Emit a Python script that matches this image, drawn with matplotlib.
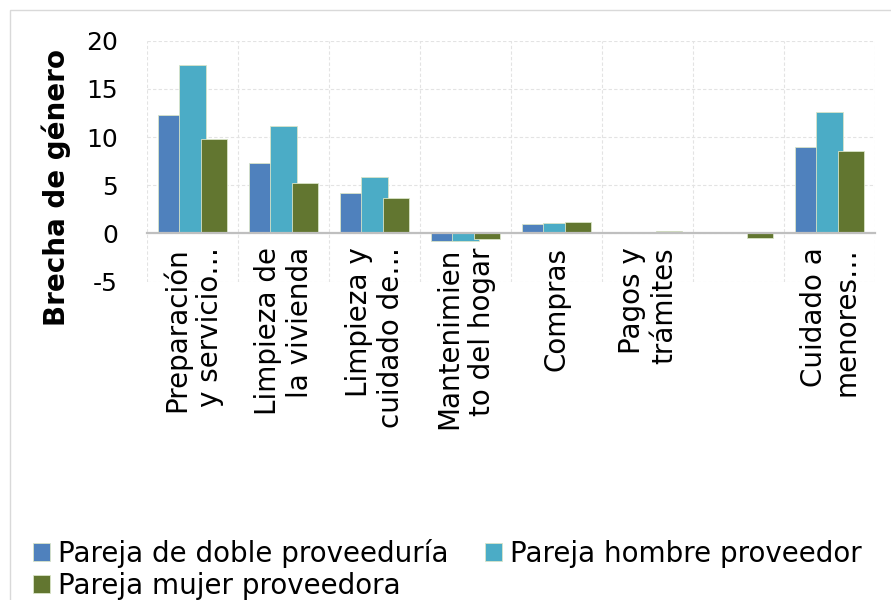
import matplotlib.pyplot as plt
from matplotlib.patches import Rectangle
import numpy as np

# data
categorias = ["Preparación\ny servicio…", "Limpieza de\nla vivienda", "Limpieza y\ncuidado de…",
              "Mantenimien\nto del hogar", "Compras", "Pagos y\ntrámites", "", "Cuidado a\nmenores…"]
doble = [12.3, 7.3, 4.2, -0.8, 0.95, 0.0, 0.0, 9.0]
hombre = [17.5, 11.1, 5.9, -0.75, 1.05, 0.0, 0.13, 12.55]
mujer = [9.8, 5.2, 3.7, -0.6, 1.15, 0.25, -0.45, 8.5]
series = ["Pareja de doble proveeduría", "Pareja hombre proveedor", "Pareja mujer proveedora"]
colores = ["#4F81BD", "#4BACC6", "#627630"]

plt.rcParams['font.family'] = ['DejaVu Sans']
plt.rcParams['axes.unicode_minus'] = False

fig = plt.figure(figsize=(8.91, 6.0), dpi=100)
ax = fig.add_axes([0.1653, 0.5308, 0.8171, 0.4014])

x = np.arange(len(categorias))
w = 0.293
step = 0.234
barras = []
for i, (vals, c, lab) in enumerate(zip([doble, hombre, mujer], colores, series)):
    b = ax.bar(x + (i - 1) * step, vals, width=w, color=c, edgecolor='#D9E4C8',
               linewidth=0.6, label=lab, zorder=3 + i)
    barras.append(b)

ax.set_xlim(-0.5, len(categorias) - 0.5)
ax.set_ylim(-5, 20)
ax.set_yticks([-5, 0, 5, 10, 15, 20])
ax.tick_params(axis='y', length=0, pad=21, labelsize=18)
ax.set_ylabel("Brecha de género", fontsize=20, fontweight='bold')
ax.yaxis.set_label_coords(-0.105, 0.39)

# category labels sit on the zero line
ax.spines['bottom'].set_position(('data', 0))
ax.spines['bottom'].set_color('#BFBFBF')
ax.spines['bottom'].set_linewidth(1.6)
ax.spines['bottom'].set_zorder(10)
for s in ['top', 'right', 'left']:
    ax.spines[s].set_visible(False)
ax.set_xticks(x)
ax.set_xticklabels(categorias, rotation=90, fontsize=20, va='top', ha='center',
                   multialignment='right')
ax.tick_params(axis='x', length=0, pad=10)

ax.set_xticks(np.arange(-0.5, len(categorias)), minor=True)
ax.tick_params(axis='x', which='minor', length=0)
ax.grid(True, which='major', axis='y', color='#E3E3E3', linestyle=(0, (3, 2)), linewidth=0.8, zorder=0)
ax.grid(True, which='minor', axis='x', color='#E3E3E3', linestyle=(0, (3, 2)), linewidth=0.8, zorder=0)
ax.set_axisbelow(True)

# legend fills row by row in the reference
orden = [0, 2, 1]
fig.legend([barras[k] for k in orden], [series[k] for k in orden],
           loc='lower left', bbox_to_anchor=(0.025, -0.018), ncol=2, fontsize=20, frameon=False,
           handlelength=0.6, handleheight=0.6, handletextpad=0.3, columnspacing=1.3,
           labelspacing=0.15, borderaxespad=0)

fig.patches.append(Rectangle((10 / 891, -0.1), 1.0, 1.1 - 10 / 600, transform=fig.transFigure,
                             fill=False, edgecolor='#D9D9D9', linewidth=1.0))

fig.savefig('out.png', dpi=100)
